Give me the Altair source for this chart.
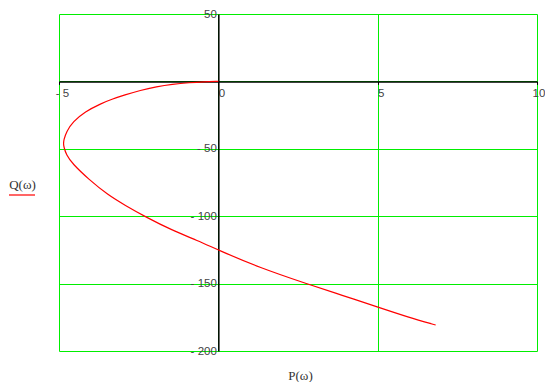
import altair as alt
import pandas as pd

# Curve Q(omega) vs P(omega)
P = [0.0, -0.45, -0.9, -1.45, -1.94, -2.45, -2.94, -3.35, -3.67, -4.19,
     -4.56, -4.77, -4.85, -4.86, -4.85, -4.77, -4.58, -4.08, -3.46,
     -2.94, -2.26, -1.47, -0.64, 0.0, 1.26, 2.82, 3.87, 5.02, 5.96, 6.82]
Q = [0.0, -0.3, -0.9, -2.1, -3.9, -6.6, -10.1, -13.3, -16.3, -22.5,
     -29.9, -37.3, -43.5, -46.0, -48.4, -54.6, -61.0, -72.4, -84.3,
     -91.7, -100.8, -110.2, -118.2, -125.1, -137.9, -150.5, -158.5, -167.6,
     -175.0, -180.7]

x_ticks = [-5, 0, 5, 10]
y_ticks = [-200, -150, -100, -50, 0, 50]
x_domain = [-5, 10]
y_domain = [-200, 50]

W, H = 478, 337
GRID = "#00ee00"

df = pd.DataFrame({"P": P, "Q": Q, "i": list(range(len(P)))})

x0_px = (0 - x_domain[0]) / (x_domain[1] - x_domain[0]) * W
y0_px = (y_domain[1] - 0) / (y_domain[1] - y_domain[0]) * H

label_expr = "datum.value < 0 ? '- ' + abs(datum.value) : '' + datum.value"

x_axis = alt.Axis(
    values=x_ticks, orient="bottom", offset=-(H - y0_px),
    grid=True, gridColor=GRID, gridWidth=1, gridOpacity=1,
    domainColor="black", domainWidth=1.5,
    ticks=True, tickColor="black", tickSize=3,
    labelExpr=label_expr, labelAlign="center",
    labelOffset={"condition": {"test": "datum.value == 10", "value": 1.5},
                 "value": 3},
    labelBaseline="top", labelPadding=3,
    labelFont="Liberation Sans", labelFontSize=11.5, labelColor="#444444",
    title="P(ω)", titleFont="Liberation Serif", titleFontSize=13,
    titleFontWeight="normal", titleColor="#333333",
    titleX=300 - 59, titleY=375.5 - (14 + y0_px),
    titleAlign="center", titleBaseline="middle",
)

y_axis = alt.Axis(
    values=y_ticks, orient="left", offset=-x0_px,
    grid=True, gridColor=GRID, gridWidth=1, gridOpacity=1,
    domainColor="black", domainWidth=1.5,
    ticks=False, labelPadding=2,
    labelExpr="datum.value == 0 ? '' : (" + label_expr + ")",
    labelBaseline="middle",
    labelFont="Liberation Sans", labelFontSize=11.5, labelColor="#444444",
    title="Q(ω)", titleFont="Liberation Serif", titleFontSize=13,
    titleFontWeight="normal", titleColor="#333333", titleAngle=0,
    titleX=22 - (59 + x0_px), titleY=184 - 14,
    titleAlign="center", titleBaseline="middle",
)

curve = alt.Chart(df).mark_line(color="red", strokeWidth=1.2,
                                interpolate="basis").encode(
    x=alt.X("P:Q", scale=alt.Scale(domain=x_domain, nice=False, zero=False),
            axis=x_axis),
    y=alt.Y("Q:Q", scale=alt.Scale(domain=y_domain, nice=False, zero=False),
            axis=y_axis),
    order="i:Q",
)

legend_line = alt.Chart(pd.DataFrame({"k": [0]})).mark_rule(
    color="red", strokeWidth=1.2).encode(
    x=alt.value(9 - 59), x2=alt.value(35 - 59), y=alt.value(195 - 14)
)

chart = alt.layer(curve, legend_line).properties(
    width=W, height=H,
    autosize=alt.AutoSizeParams(type="none"),
    padding={"left": 51, "top": 6, "right": 8, "bottom": 31},
    background="white",
).configure_view(stroke=None)

chart.save("out.html", embed_options={"renderer": "svg", "actions": False})
